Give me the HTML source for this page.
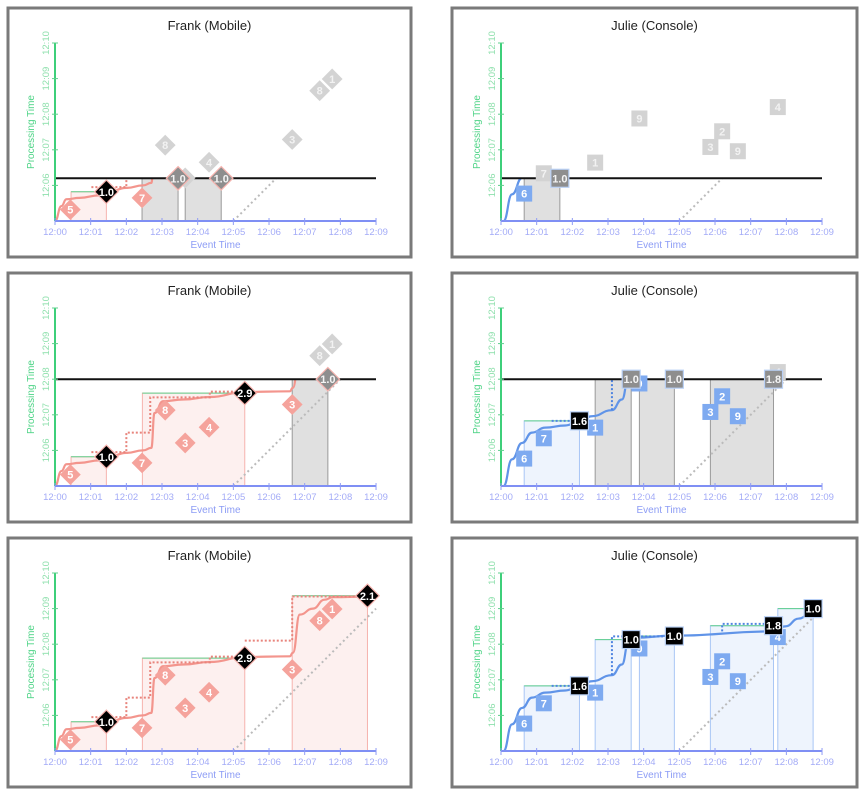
<!DOCTYPE html>
<html><head><meta charset="utf-8">
<style>
html,body{margin:0;padding:0;background:#fff;}
svg{display:block;font-family:"Liberation Sans",sans-serif;}
</style></head>
<body>
<svg id="chart" width="864" height="793" viewBox="0 0 864 793" xmlns="http://www.w3.org/2000/svg"></svg>
<script>
// ---- data (minutes after 12:00) ----
const xTicks = ['12:00','12:01','12:02','12:03','12:04','12:05','12:06','12:07','12:08','12:09'];
const yTicks = ['12:06','12:07','12:08','12:09','12:10'];
const frankEvent = [0.43,2.44,3.09,3.65,4.32,6.65,7.42,7.77];
const frankProc  = [5.32,5.65,7.13,6.21,6.65,7.29,8.66,8.99];
const frankLabels= ['5','7','8','3','4','3','8','1'];
const julieEvent = [0.65,1.2,2.64,3.88,5.87,6.2,6.64,7.76];
const julieProc  = [5.77,6.34,6.64,7.88,7.08,7.52,6.96,8.2];
const julieLabels= ['6','7','1','9','3','2','9','4'];
const frankWinStart = [0.45,2.45,6.65];
const frankWinEnd   = [1.44,5.32,8.76];
const frankWinTop   = [5.82,7.61,9.36];
const frankResults  = ['1.0','2.9','2.1'];
const julieWinStart = [0.65,2.64,3.88,5.87,7.76];
const julieWinEnd   = [2.2,3.65,4.86,7.64,8.75];
const julieWinTop   = [6.83,8.13,8.23,8.52,9.0];
const julieResults  = ['1.6','1.0','1.0','1.8','1.0'];
const frankCurveEv = [0,0.18,0.32,0.69,1.25,1.44,2.0,2.47,2.7,2.79,3.03,3.59,4.34,5.32,6.58,6.67,6.86,7.23,7.56,7.79,8.76];
const frankCurvePt = [5,5.42,5.61,5.65,5.72,5.79,5.93,6.0,6.07,7.05,7.38,7.43,7.5,7.64,7.66,7.76,8.83,9.0,9.25,9.32,9.34];
const julieCurveEv = [0.07,0.31,0.59,0.87,1.24,1.8,2.2,2.55,3.11,3.39,3.58,3.67,4.86,7.64,7.97,8.35,8.75];
const julieCurvePt = [5,5.75,6.21,6.5,6.64,6.7,6.82,6.96,7.13,7.43,8.08,8.18,8.24,8.36,8.5,8.72,8.94];
const frankDotEv = [[1.02,2.0,2.0,2.67,2.67,4.34,4.34,5.32],[5.32,6.65,6.65,8.76]];
const frankDotPt = [[5.95,5.95,6.5,6.5,7.49,7.49,7.65,7.65],[8.1,8.1,9.34,9.34]];
const julieDotEv = [[1.42,2.2],[3.11,3.11,4.86],[6.2,6.2,7.64]];
const julieDotPt = [[6.83,6.83],[7.13,8.22,8.22],[8.36,8.57,8.57]];
const watermarks = [6.2, 8.0, null];
const frankDone = [1,2,3];
const julieDone = [0,1,5];
const frankPendStart = [[2.44,3.65],[6.65],[]];
const frankPendEnd   = [[3.45,4.66],[7.65],[]];
const frankPendLabel = [['1.0','1.0'],['1.0'],[]];
const juliePendStart = [[0.65],[2.64,3.88,5.87],[]];
const juliePendEnd   = [[1.65],[3.65,4.86,7.64],[]];
const juliePendLabel = [['1.0'],['1.0','1.0','1.8'],[]];

const NS='http://www.w3.org/2000/svg';
const svg=document.getElementById('chart');
function el(tag,attrs,parent,text){const e=document.createElementNS(NS,tag);for(const k in attrs)e.setAttribute(k,attrs[k]);if(text!==undefined)e.textContent=text;(parent||svg).appendChild(e);return e;}
const PX=35.67, PY=35.6;

function drawPanel(row, isJulie){
  const px = isJulie?501:55, py=[221,486,751][row];
  const left = isJulie?452:8, w = isJulie?405:403, top=py-213;
  const X=ev=>px+ev*PX, Y=p=>py-(p-5)*PY;
  const g=el('g',{});
  
  
  const b=el('rect',{x:left,y:top,width:w,height:249,fill:'#fff',stroke:'#7a7a7a','stroke-width':3},g);
  
  const t=el('text',{x:left+w/2,y:top+22,'text-anchor':'middle','font-size':13,fill:'#222'},g,isJulie?'Julie (Console)':'Frank (Mobile)');
  
  const wm=watermarks[row];
  const ev=isJulie?julieEvent:frankEvent, pt=isJulie?julieProc:frankProc, lb=isJulie?julieLabels:frankLabels;
  const ws=isJulie?julieWinStart:frankWinStart, we=isJulie?julieWinEnd:frankWinEnd, wt=isJulie?julieWinTop:frankWinTop, wr=isJulie?julieResults:frankResults;
  const nDone=(isJulie?julieDone:frankDone)[row];
  const fillC=isJulie?'#eef4fd':'#fdf0ef', edgeC=isJulie?'#a9c6f5':'#f6b3ae', ptC=isJulie?'#7eaaf0':'#f5a39c', lineC=isJulie?'#6094e8':'#f3958d';
  for(let i=0;i<nDone;i++){
    const r=el('rect',{x:X(ws[i]),y:Y(wt[i]),width:X(we[i])-X(ws[i]),height:py-Y(wt[i]),fill:fillC,stroke:edgeC,'stroke-width':1},g);
    
    const gl=el('line',{x1:X(ws[i]),x2:X(we[i]),y1:Y(wt[i]),y2:Y(wt[i]),stroke:'#5fd08c','stroke-width':1},g);
    
  }
  const psA=(isJulie?juliePendStart:frankPendStart)[row], peA=(isJulie?juliePendEnd:frankPendEnd)[row];
  for(let i=0;i<psA.length;i++){
    const r=el('rect',{x:X(psA[i]),y:Y(wm),width:X(peA[i])-X(psA[i]),height:py-Y(wm),fill:'#e0e0e0',stroke:'#9a9a9a','stroke-width':1},g);
    
  }
  if(wm!==null){const cp=el('clipPath',{id:'clip'+row+(isJulie?'j':'f')},g);el('rect',{x:0,y:Y(wm),width:864,height:py-Y(wm)+2},cp);}
  const clip=wm!==null?'url(#clip'+row+(isJulie?'j':'f')+')':'none';
  const d=el('line',{x1:X(5),y1:Y(5),x2:X(9),y2:Y(9),stroke:'#bbb','stroke-width':2,'stroke-dasharray':'2,3','clip-path':clip},g);
  
  const ce=isJulie?julieCurveEv:frankCurveEv, cpT=isJulie?julieCurvePt:frankCurvePt;
  let dd='M'+X(ce[0])+','+Y(cpT[0]);
  for(let i=1;i<ce.length;i++){const mx=(X(ce[i-1])+X(ce[i]))/2;dd+=' C'+mx+','+Y(cpT[i-1])+' '+mx+','+Y(cpT[i])+' '+X(ce[i])+','+Y(cpT[i]);}
  const cv=el('path',{d:dd,fill:'none',stroke:lineC,'stroke-width':2.2,'clip-path':clip},g);
  
  const de=isJulie?julieDotEv:frankDotEv, dp=isJulie?julieDotPt:frankDotPt;
  for(let k=0;k<de.length;k++){
    const pts=de[k].map((e,i)=>X(e)+','+Y(dp[k][i])).join(' ');
    const pl=el('polyline',{points:pts,fill:'none',stroke:isJulie?'#4f84e0':'#e8847c','stroke-width':2,'stroke-dasharray':'2,2','clip-path':clip},g);
    
  }
  if(wm!==null){const l=el('line',{x1:px,x2:px+321,y1:Y(wm),y2:Y(wm),stroke:'#111','stroke-width':2},g);
    }
  const ya=el('line',{x1:px,x2:px,y1:py,y2:Y(10),stroke:'#3ecf7a','stroke-width':2},g);
  
  const xa=el('line',{x1:px,x2:px+321,y1:py,y2:py,stroke:'#7f8ff4','stroke-width':2},g);
  
  xTicks.forEach((s,i)=>{
    el('line',{x1:X(i),x2:X(i),y1:py-3,y2:py+4,stroke:'#8f9cf5','stroke-width':1},g);
    const tx=el('text',{x:X(i),y:py+14,'text-anchor':'middle','font-size':9.5,fill:'#a3abf7'},g,s);
    
  });
  yTicks.forEach((s,i)=>{
    const yy=Y(6+i);
    el('line',{x1:px-3,x2:px+3,y1:yy,y2:yy,stroke:'#5fd08c','stroke-width':1},g);
    const tx=el('text',{x:0,y:0,'text-anchor':'middle','font-size':9.5,fill:'#8fe0ad',transform:'translate('+(px-6)+','+yy+') rotate(-90)'},g,s);
    
  });
  const xt=el('text',{x:X(4.5),y:py+27,'text-anchor':'middle','font-size':10,fill:'#8c9cf5'},g,'Event Time');
  
  const yt=el('text',{x:0,y:0,'text-anchor':'middle','font-size':10,fill:'#4fd487',transform:'translate('+(px-21)+','+(py-89)+') rotate(-90)'},g,'Processing Time');
  
  function mark(x,y,lab,fill,txt,size,stroke){
    let m;
    if(isJulie) m=el('rect',{x:x-size,y:y-size,width:2*size,height:2*size,fill:fill,stroke:stroke||'none','stroke-width':1.2},g);
    else m=el('polygon',{points:(x)+','+(y-size*1.3)+' '+(x+size*1.3)+','+y+' '+x+','+(y+size*1.3)+' '+(x-size*1.3)+','+y,fill:fill,stroke:stroke||'none','stroke-width':1.2},g);
    
    const tx=el('text',{x:x,y:y+4,'text-anchor':'middle','font-size':11,'font-weight':'bold',fill:txt},g,lab);
    
  }
  for(let i=0;i<ev.length;i++){
    const pending = wm!==null && pt[i]>wm;
    mark(X(ev[i]),Y(pt[i]),lb[i],pending?'#d3d3d3':ptC,pending?'#f2f2f2':'#fff',8);
  }
  const pl=(isJulie?juliePendLabel:frankPendLabel)[row];
  for(let i=0;i<psA.length;i++) mark(X(peA[i]),Y(wm),pl[i],'#8e8e8e','#f4f4f4',9,isJulie?'#b9d0f5':'#f6b3ae');
  for(let i=0;i<nDone;i++) mark(X(we[i]),Y(wt[i]),wr[i],'#000','#fff',9,isJulie?'#b9d0f5':'#f6b3ae');
}
for(let r=0;r<3;r++){drawPanel(r,false);drawPanel(r,true);}
</script>
</body></html>
